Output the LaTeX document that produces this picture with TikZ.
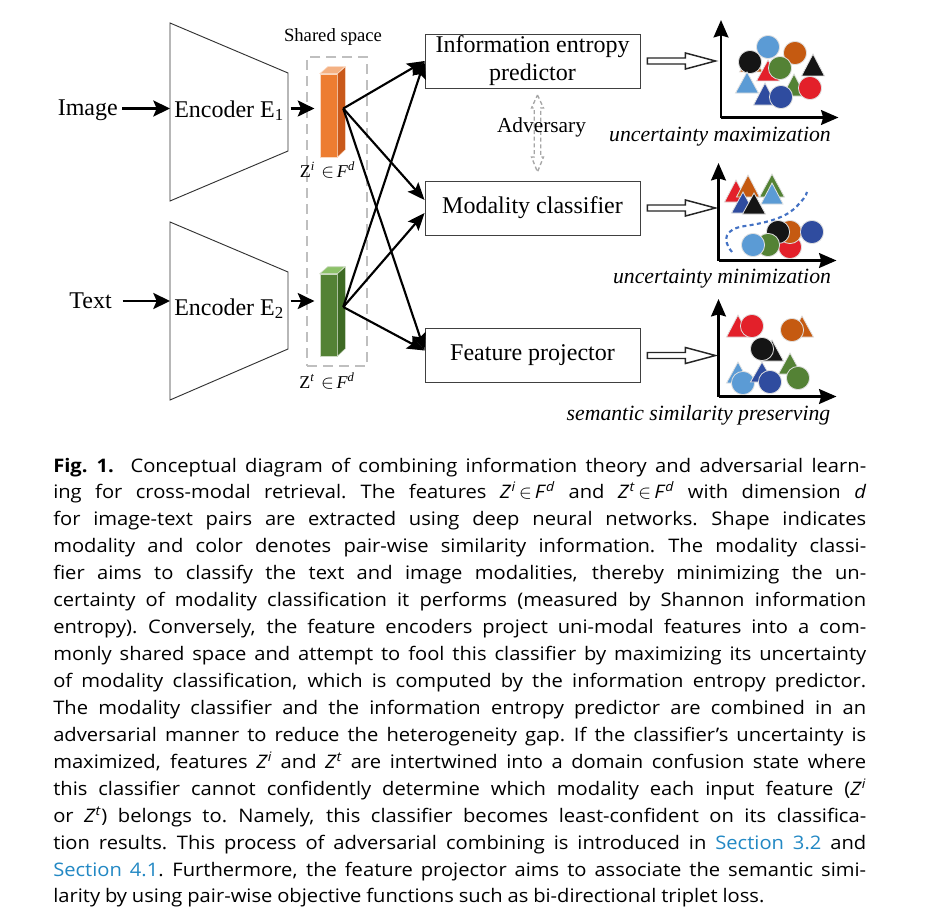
\documentclass[tikz,border=0pt]{standalone}
\usepackage{fontspec}
\setmainfont{Liberation Serif}
\newfontfamily\capfont[FakeStretch=1.08]{Open Sans}
\usetikzlibrary{arrows.meta,calc}
\definecolor{lblue}{HTML}{5B9BD5}
\definecolor{corange}{HTML}{C55A11}
\definecolor{cblack}{HTML}{151515}
\definecolor{cgreen}{HTML}{548235}
\definecolor{cred}{HTML}{E3202A}
\definecolor{dblue}{HTML}{2F4C9F}
\definecolor{barorange}{HTML}{ED7D31}
\definecolor{barorangeside}{HTML}{C9591A}
\definecolor{barorangetop}{HTML}{F4B183}
\definecolor{bargreen}{HTML}{548235}
\definecolor{bargreenside}{HTML}{3E6A24}
\definecolor{bargreentop}{HTML}{8CC168}
\definecolor{curveblue}{HTML}{4472C4}
\definecolor{linkblue}{HTML}{2288C4}
\newcommand\mycirc[3]{\filldraw[shp,fill=#1] (#2,#3) circle[radius=11.6];}
\newcommand\mytri[4]{\filldraw[shp,fill=#1] (#2,#3) -- ++(-11.5,#4) -- ++(23,0) -- cycle;}
\newcommand\cl[1]{\hbox to 609.75pt{#1}}
\newcommand\zsup[1]{\textit{Z}\textsuperscript{\textit{#1}}}
\newcommand\zin[1]{\zsup{#1}\,$\in$\,\textit{F}\textsuperscript{\textit{d}}}
\begin{document}
\begin{tikzpicture}[x=0.75pt,y=-0.75pt,
  lbl/.style={font=\fontsize{18}{21}\selectfont, inner sep=3pt},
  boxn/.style={draw=black!75, line width=0.7pt, minimum width=161.25pt, minimum height=40.5pt, inner sep=0pt, align=center, font=\fontsize{18}{21}\selectfont},
  enc/.style={draw=black!80, line width=0.7pt},
  bigarr/.style={line width=1.9pt, -{Stealth[length=12.5pt,width=12pt,inset=2.5pt]}},
  conn/.style={line width=1.6pt, -{Stealth[length=13pt,width=10.5pt,inset=2.5pt]}},
  axis/.style={line width=2.2pt, -{Stealth[length=13pt,width=11pt,inset=1.5pt]}},
  hollow/.style={draw=black!85, line width=1.1pt, fill=white},
  shp/.style={draw=white!88!black, line width=0.6pt},
  ital/.style={font=\fontsize{16.3}{19}\selectfont\itshape, inner sep=0pt},
  zlab/.style={font=\fontsize{13.5}{16}\selectfont, inner sep=0pt}]
\useasboundingbox (0,0) rectangle (945,917);
\fill[white] (0,0) rectangle (945,917);

% ---------- encoders ----------
\draw[enc] (170,23) -- (288,73) -- (288,151) -- (170,201) -- cycle;
\draw[enc] (170,222) -- (288,272) -- (288,349) -- (170,400) -- cycle;
\coordinate (e1w) at (170,108.5);
\coordinate (e1e) at (288,108.5);
\coordinate (e2w) at (170,301);
\coordinate (e2e) at (288,301);
\node[lbl, anchor=base west, inner sep=0pt] (enc1) at (174,117) {Encoder E\textsubscript{1}};
\node[lbl, anchor=base west, inner sep=0pt] (enc2) at (174,315) {Encoder E\textsubscript{2}};

\node[lbl, anchor=base east] (img) at (122,115) {Image};
\node[lbl, anchor=base east] (txt) at (116,308) {Text};
\draw[bigarr] (img.east |- e1w) -- (e1w);
\draw[bigarr, shorten <=5pt] (txt.east |- e2w) -- (e2w);

% ---------- shared space ----------
\node[draw=black!25, dashed, dash pattern=on 7.5pt off 4.5pt, line width=1.5pt, minimum width=45pt, minimum height=231.75pt, inner sep=0pt] (ss) at (337,211.5) {};
\node[font=\fontsize{14}{16}\selectfont, anchor=base, inner sep=0pt] (sslab) at (333,41.5) {Shared space};

\node[fill=barorange, draw=white!70!barorange, line width=0.4pt, minimum width=12.75pt, minimum height=62.25pt, inner sep=0pt] (zi) at (328.5,115.5) {};
\filldraw[fill=barorangeside, draw=white!70!barorange, line width=0.4pt] (zi.north east) -- ++(8,-7) -- ++(0,83) -- (zi.south east) -- cycle;
\filldraw[fill=barorangetop, draw=white!70!barorange, line width=0.4pt] (zi.north west) -- ++(8,-7) -- ++(17,0) -- (zi.north east) -- cycle;

\node[fill=bargreen, draw=white!70!bargreen, line width=0.4pt, minimum width=12.75pt, minimum height=61.5pt, inner sep=0pt] (zt) at (328.5,315) {};
\filldraw[fill=bargreenside, draw=white!70!bargreen, line width=0.4pt] (zt.north east) -- ++(8,-7) -- ++(0,82) -- (zt.south east) -- cycle;
\filldraw[fill=bargreentop, draw=white!70!bargreen, line width=0.4pt] (zt.north west) -- ++(8,-7) -- ++(17,0) -- (zt.north east) -- cycle;

\node[zlab, anchor=base] (zilab) at (327.5,177) {Z\textsuperscript{\textit{i}}\hspace{0.35em}$\in$\hspace{0.15em}\textit{F}\textsuperscript{\textit{d}}};
\node[zlab, anchor=base] (ztlab) at (327,388) {Z\textsuperscript{\textit{t}}\hspace{0.35em}$\in$\hspace{0.15em}\textit{F}\textsuperscript{\textit{d}}};

\draw[bigarr, shorten <=2pt, shorten >=4pt] (e1e) -- (e1e -| zi.west);
\draw[bigarr, shorten <=2pt, shorten >=4pt] (e2e) -- (e2e -| zt.west);

\coordinate (oz) at ($(zi.east)+(6,-7)$);
\coordinate (gz) at ($(zt.east)+(6,-8)$);

% ---------- boxes ----------
\node[boxn] (iep) at (532.5,61) {Information entropy\\predictor};
\node[boxn] (mc) at (532.5,208) {Modality classifier};
\node[boxn] (fp) at (532.5,355.5) {Feature projector};

\draw[conn] (oz) -- (iep.west);
\draw[conn] (oz) -- ($(mc.west)+(0,-8)$);
\draw[conn] (oz) -- ($(fp.west)+(0,-5)$);
\draw[conn] (gz) -- (iep.west);
\draw[conn] (gz) -- ($(mc.west)+(0,5)$);
\draw[conn] (gz) -- ($(fp.west)+(0,-5)$);

% ---------- adversary ----------
\draw[draw=black!35, line width=1pt, dash pattern=on 3pt off 2pt]
  (537.5,95) -- (543.5,108) -- (540.8,108) -- (540.8,157) -- (543.5,157) -- (537.5,172)
  -- (531.5,157) -- (534.2,157) -- (534.2,108) -- (531.5,108) -- cycle;
\node[font=\fontsize{16}{18}\selectfont, anchor=base, inner sep=0pt] (adv) at (541.5,132) {Adversary};

% ---------- hollow arrows ----------
\foreach \b in {iep,mc,fp}{
  \draw[hollow] ($(\b.east)+(7,-3)$) -- ++(38,0) -- ++(0,-5) -- ++(30,8) -- ++(-30,8) -- ++(0,-5) -- ++(-38,0) -- cycle;
}

% ---------- plot 1 ----------
\coordinate (o1) at (721,117.5);
\draw[axis] (o1) -- (721,20);
\draw[axis] (o1) -- (838.5,117.5);
\mycirc{lblue}{768}{47}
\mycirc{corange}{795}{53}
\mytri{corange}{751}{51}{21}
\mycirc{cblack}{750}{62}
\mytri{cblack}{813}{54}{22}
\mytri{cred}{768}{60}{21}
\mycirc{cgreen}{780}{68}
\mytri{lblue}{747}{72}{21}
\mytri{cgreen}{794}{74}{22}
\mycirc{cred}{810}{88}
\mytri{dblue}{765}{83}{22}
\mycirc{dblue}{781}{97}
\node[ital, anchor=base] (l1) at (720,141.5) {uncertainty maximization};

% ---------- plot 2 ----------
\coordinate (o2) at (718.5,260.5);
\draw[axis] (o2) -- (718.5,163);
\draw[axis] (o2) -- (836.5,260.5);
\mytri{cred}{736}{180}{22}
\mytri{corange}{748}{175}{22}
\filldraw[shp,fill=cgreen] (772,174) -- ++(-12.5,23) -- ++(25,0) -- cycle;
\filldraw[shp,fill=lblue] (772,183) -- ++(-11,21) -- ++(22,0) -- cycle;
\mytri{dblue}{743}{192}{21}
\mytri{cblack}{754}{193}{21}
\draw[curveblue, line width=1.6pt, dash pattern=on 3pt off 2.5pt]
  (732,252) .. controls (722,240) and (724,229) .. (745,226)
  .. controls (772,222) and (788,216) .. (797,206)
  .. controls (803,200) and (806,196) .. (807,192);
\mycirc{cred}{790}{247}
\mycirc{corange}{790}{232}
\mycirc{cblack}{778}{232}
\mycirc{dblue}{812}{232}
\mycirc{cgreen}{768}{245}
\mycirc{lblue}{753}{245}
\node[ital, anchor=base] (l2) at (722,283) {uncertainty minimization};

% ---------- plot 3 ----------
\coordinate (o3) at (718.5,396.5);
\draw[axis] (o3) -- (718.5,299);
\draw[axis] (o3) -- (836.5,396.5);
\mytri{cred}{738}{315}{22}
\mycirc{cred}{752}{326}
\mytri{corange}{802}{316}{21}
\mycirc{corange}{792}{330}
\mytri{cblack}{772}{340}{21}
\mycirc{cblack}{762}{349}
\mytri{lblue}{738}{362}{21}
\mycirc{lblue}{743}{383}
\mytri{dblue}{762}{362}{20}
\mycirc{dblue}{770}{382}
\mytri{cgreen}{790}{353}{21}
\mycirc{cgreen}{798}{378}
\node[ital, anchor=base] (l3) at (698.5,420.5) {semantic similarity preserving};

% ---------- caption ----------
\node[anchor=base west, inner sep=0pt, text width=609.75pt, font=\capfont\fontsize{14}{20.2}\selectfont] (cap) at (53,472) {%
\spaceskip=0.26em plus 1.5em minus 0.08em\relax
\xspaceskip=0.3em plus 1.5em minus 0.08em\relax
\cl{\textbf{Fig. 1.}\hspace{0.4em} Conceptual diagram of combining information theory and adversarial learn-}
\cl{ing for cross-modal retrieval. The features \zin{i} and \zin{t} with dimension \textit{d}}
\cl{for image-text pairs are extracted using deep neural networks. Shape indicates}
\cl{modality and color denotes pair-wise similarity information. The modality classi-}
\cl{fier aims to classify the text and image modalities, thereby minimizing the un-}
\cl{certainty of modality classification it performs (measured by Shannon information}
\cl{entropy). Conversely, the feature encoders project uni-modal features into a com-}
\cl{monly shared space and attempt to fool this classifier by maximizing its uncertainty}
\cl{of modality classification, which is computed by the information entropy predictor.}
\cl{The modality classifier and the information entropy predictor are combined in an}
\cl{adversarial manner to reduce the heterogeneity gap. If the classifier’s uncertainty is}
\cl{maximized, features \zsup{i} and \zsup{t} are intertwined into a domain confusion state where}
\cl{this classifier cannot confidently determine which modality each input feature (\zsup{i}}
\cl{or \zsup{t}) belongs to. Namely, this classifier becomes least-confident on its classifica-}
\cl{tion results. This process of adversarial combining is introduced in \textcolor{linkblue}{Section 3.2} and}
\cl{\textcolor{linkblue}{Section 4.1}. Furthermore, the feature projector aims to associate the semantic simi-}
\hbox{larity by using pair-wise objective functions such as bi-directional triplet loss.}%
};
\end{tikzpicture}
\end{document}
